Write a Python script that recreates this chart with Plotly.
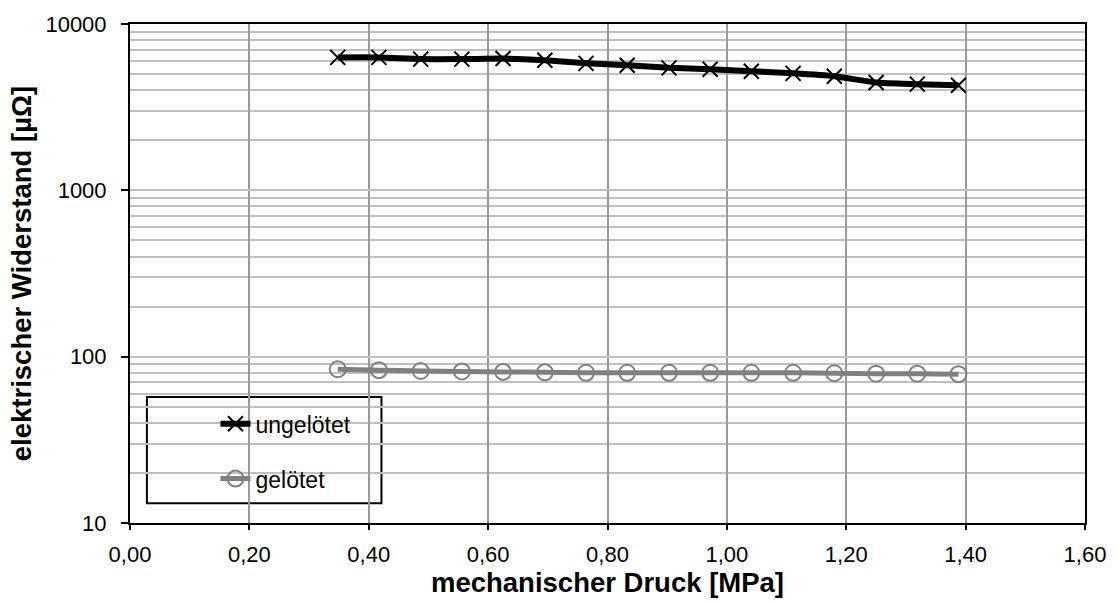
import plotly.graph_objects as go

druck = [0.348, 0.417, 0.487, 0.556, 0.625, 0.695, 0.764, 0.833,
         0.903, 0.972, 1.041, 1.111, 1.180, 1.250, 1.319, 1.388]
ungeloetet = [6300, 6300, 6150, 6150, 6200, 6050, 5800, 5650,
              5450, 5350, 5200, 5050, 4850, 4450, 4350, 4280]
geloetet = [84, 83, 82, 81.5, 81, 80.5, 80, 80,
            80, 80, 80, 80, 79.5, 79, 79, 78.5]
y_tickvals = [10, 100, 1000, 10000]
y_ticktext = ["10", "100", "1000", "10000"]
x_tickvals = [0.0, 0.2, 0.4, 0.6, 0.8, 1.0, 1.2, 1.4, 1.6]
x_ticktext = ["0,00", "0,20", "0,40", "0,60", "0,80", "1,00", "1,20", "1,40", "1,60"]

FONT = "Liberation Sans, Arial, sans-serif"

fig = go.Figure()
fig.add_trace(go.Scatter(
    x=druck, y=ungeloetet, name="ungelötet", mode="lines+markers",
    line=dict(color="black", width=6, shape="spline", smoothing=0.6),
    marker=dict(symbol="x-thin-open", size=15, line=dict(color="black", width=2)),
    legendgroup="a",
))
fig.add_trace(go.Scatter(
    x=druck, y=geloetet, name="gelötet", mode="lines+markers",
    line=dict(color="#808080", width=5, shape="spline", smoothing=0.6),
    marker=dict(symbol="circle-open", size=16, color="#808080",
                line=dict(color="#808080", width=2)),
    legendgroup="b",
))

fig.update_layout(
    width=1118, height=604,
    margin=dict(l=130, r=27, t=23, b=78),
    paper_bgcolor="white", plot_bgcolor="white",
    font=dict(family=FONT, size=22, color="black"),
    showlegend=True,
    legend=dict(
        x=0.0895, y=0.242, xanchor="left", yanchor="top",
        bgcolor="rgba(0,0,0,0)", borderwidth=0,
        tracegroupgap=22, itemwidth=30,
        font=dict(family=FONT, size=23, color="black"),
    ),
    shapes=[dict(type="rect", xref="paper", yref="paper",
                 x0=0.0177, x1=0.2633, y0=0.0398, y1=0.2525,
                 line=dict(color="black", width=2), fillcolor="white", layer="between")],
)

fig.update_xaxes(
    range=[0, 1.6], tickvals=x_tickvals, ticktext=x_ticktext,
    showgrid=True, gridcolor="#999999", gridwidth=1.5,
    showline=True, linecolor="black", linewidth=2, mirror=True,
    ticks="outside", ticklen=5, tickcolor="black", tickwidth=1.5,
    ticklabelstandoff=6,
    tickfont=dict(size=22, family=FONT),
    title=dict(text="<b>mechanischer Druck [MPa]</b>", font=dict(size=27.5, family=FONT), standoff=5),
    zeroline=False,
)
fig.update_yaxes(
    type="log", range=[1, 4], tickvals=y_tickvals, ticktext=y_ticktext,
    showgrid=True, gridcolor="#c0c0c0", gridwidth=1.5,
    minor=dict(showgrid=True, gridcolor="#c0c0c0", gridwidth=1.5, ticks="", dtick="D1"),
    showline=True, linecolor="black", linewidth=2, mirror=True,
    ticks="outside", ticklen=7, tickcolor="black", tickwidth=1.5,
    ticklabelstandoff=10,
    tickfont=dict(size=22, family=FONT),
    title=dict(text="<b>elektrischer Widerstand [µΩ]</b>", font=dict(size=27.5, family=FONT), standoff=6),
    zeroline=False,
)

fig.write_html("out.html", config={"displayModeBar": False},
               post_script="document.body.style.margin='0';document.body.style.overflow='hidden';")
